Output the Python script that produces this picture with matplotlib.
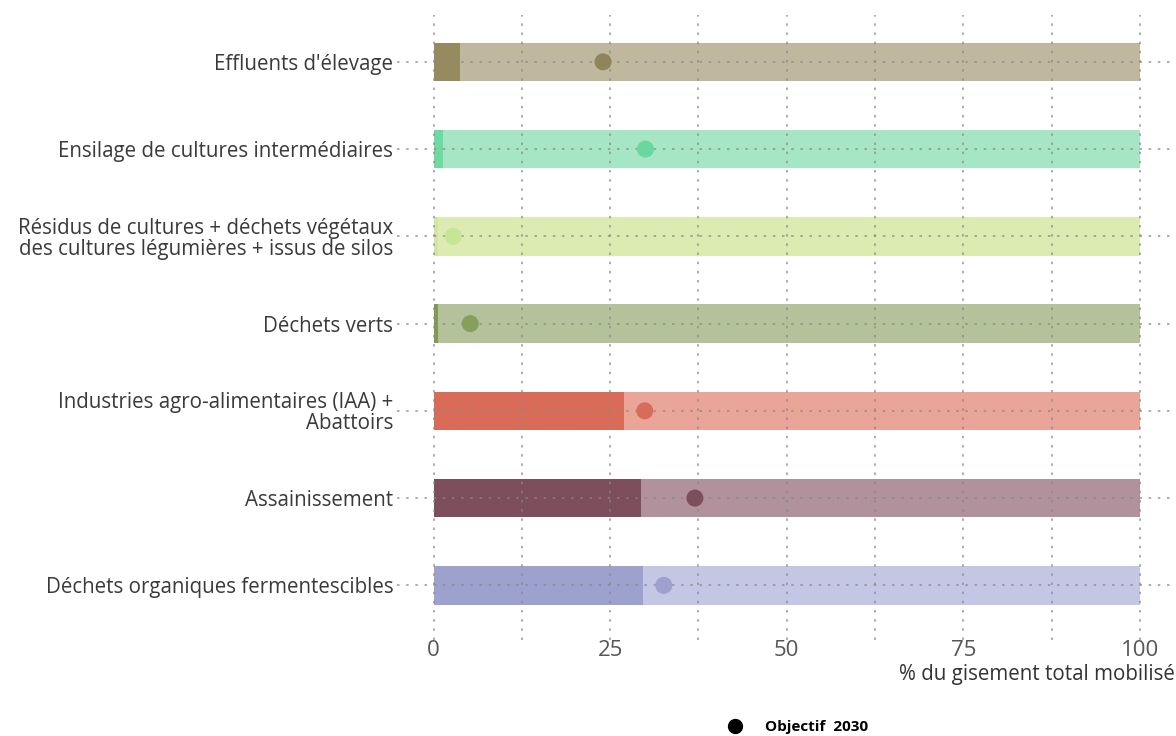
#!/usr/bin/env python3
"""
Gisement mobilise par filiere, objectif 2030
"""
import matplotlib.pyplot as plt
from matplotlib.lines import Line2D

categories = [
    "Effluents d'élevage",
    "Ensilage de cultures intermédiaires",
    "Résidus de cultures + déchets végétaux\ndes cultures légumières + issus de silos",
    "Déchets verts",
    "Industries agro-alimentaires (IAA) +\nAbattoirs",
    "Assainissement",
    "Déchets organiques fermentescibles",
]
mobilise = [3.8, 1.4, 0.7, 0.7, 26.9, 29.3, 29.6]
objectif_2030 = [24.0, 30.0, 2.8, 5.2, 29.9, 37.0, 32.6]
total = [100, 100, 100, 100, 100, 100, 100]

dark_colors = ['#968b5f', '#6fd9a2', '#cfe7a0', '#7e9b52',
               '#d96b59', '#7d4e5c', '#9da1cd']
light_colors = ['#bfb89f', '#a7e6c5', '#dbebb2', '#b4c29c',
                '#e9a698', '#b1919b', '#c4c7e3']
dot_colors = ['#8f845a', '#6ad7a0', '#c8e495', '#85a05a',
              '#d96b59', '#7d4e5c', '#9da1cd']

plt.rcParams['font.family'] = ['Open Sans', 'DejaVu Sans']

fig = plt.figure(figsize=(11.76, 7.36), dpi=100)
ax = fig.add_axes([0.338, 0.13, 0.662, 0.85])

y = list(range(len(categories)))
ax.barh(y, total, height=0.44, color=light_colors, zorder=1)
ax.barh(y, mobilise, height=0.44, color=dark_colors, zorder=1.2)
ax.scatter(objectif_2030, y, s=150, color=dot_colors, zorder=3,
           edgecolors='none')

ax.set_xlim(-5.1, 105.1)
ax.set_ylim(6.63, -0.54)
ax.set_yticks(y)
ax.set_yticklabels(categories, fontsize=14.8, color='#3a3a3a',
                   linespacing=1.0)
ax.set_xticks([0, 25, 50, 75, 100])
ax.set_xticks([12.5, 37.5, 62.5, 87.5], minor=True)
ax.tick_params(axis='x', which='both', length=0, labelsize=16,
               labelcolor='#555555', pad=0)
ax.tick_params(axis='y', length=0, pad=3)

ax.set_axisbelow(False)
ax.grid(axis='x', which='both', linestyle=(0, (1.5, 4)), color='#888888',
        linewidth=1.2, alpha=0.8)
ax.grid(axis='y', linestyle=(0, (1.5, 4)), color='#888888',
        linewidth=1.2, alpha=0.8)

for side in ['top', 'right', 'bottom', 'left']:
    ax.spines[side].set_visible(False)

fig.text(0.999, 0.083, '% du gisement total mobilisé', ha='right',
         va='center', fontsize=14.8, color='#333333')

handle = Line2D([], [], marker='o', linestyle='none', color='black',
                markersize=10)
fig.legend([handle], ['Objectif  2030'], loc='center',
           bbox_to_anchor=(0.675, 0.012), frameon=False,
           prop={'size': 11, 'weight': 'bold'}, handletextpad=1.0)

fig.savefig('out.png', dpi=100)
